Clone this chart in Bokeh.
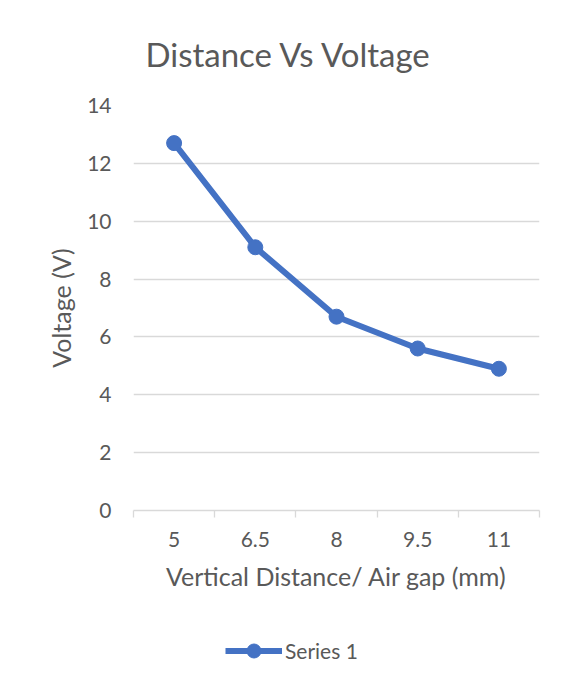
from bokeh.plotting import figure
from bokeh.layouts import column
from bokeh.models import FixedTicker, Legend, LegendItem, Range1d
from bokeh.embed import file_html
from bokeh.resources import INLINE

categories = ["5", "6.5", "8", "9.5", "11"]
voltage = [12.7, 9.1, 6.7, 5.6, 4.9]
y_ticks = [0, 2, 4, 6, 8, 10, 12, 14]
series_name = "Series 1"

FONT = "Lato"
TXT = "#595959"
GRID = "#d9d9d9"
BLUE = "#4472C4"

n = len(categories)
xpos = [i + 0.5 for i in range(n)]

p = figure(frame_width=406, frame_height=405, output_backend="svg", toolbar_location=None,
           x_range=Range1d(0, n), y_range=Range1d(0, 14),
           min_border_left=133, min_border_right=31, min_border_top=105,
           min_border_bottom=90)
p.outline_line_color = None
p.background_fill_color = "white"
p.border_fill_color = "white"

p.title.text = "Distance Vs Voltage"
p.title.align = "left"
p.title.offset = 12
p.title.text_font = FONT
p.title.text_font_style = "normal"
p.title.text_font_size = "33px"
p.title.text_color = TXT
p.title.standoff = 63

# x axis
xa = p.xaxis[0]
xa.ticker = FixedTicker(ticks=xpos, minor_ticks=list(range(n + 1)))
xa.major_label_overrides = {x: c for x, c in zip(xpos, categories)}
xa.major_tick_line_color = None
xa.major_tick_out = 7
xa.major_tick_in = 0
xa.minor_tick_line_color = GRID
xa.minor_tick_line_width = 1.3
xa.minor_tick_out = 7
xa.minor_tick_in = 0
xa.axis_line_color = GRID
xa.axis_line_width = 1.3
xa.major_label_text_font = FONT
xa.major_label_text_font_size = "21px"
xa.major_label_text_color = TXT
xa.major_label_standoff = 14
xa.axis_label = "Vertical Distance/ Air gap (mm)"
xa.axis_label_text_font = FONT
xa.axis_label_text_font_style = "normal"
xa.axis_label_text_font_size = "25px"
xa.axis_label_text_color = TXT
xa.axis_label_standoff = 11

# y axis
ya = p.yaxis[0]
ya.ticker = FixedTicker(ticks=y_ticks)
ya.axis_line_color = None
ya.major_tick_line_color = None
ya.major_tick_out = 0
ya.minor_tick_line_color = None
ya.major_label_text_font = FONT
ya.major_label_text_font_size = "21px"
ya.major_label_text_color = TXT
ya.major_label_standoff = 22
ya.axis_label = "Voltage (V)"
ya.axis_label_text_font = FONT
ya.axis_label_text_font_style = "normal"
ya.axis_label_text_font_size = "25px"
ya.axis_label_text_color = TXT
ya.axis_label_standoff = 8

p.xgrid.grid_line_color = None
p.ygrid.grid_line_color = GRID
p.ygrid.grid_line_width = 1.3

p.line(xpos, voltage, line_color=BLUE, line_width=6, line_join="round")
p.scatter(xpos, voltage, size=15, fill_color=BLUE, line_color=BLUE)

# legend strip below the chart: same series, drawn off-view so only the legend shows
p2 = figure(width=570, height=86, output_backend="svg", toolbar_location=None,
            x_axis_type=None, y_axis_type=None,
            x_range=Range1d(100, 101), y_range=Range1d(100, 101),
            min_border_left=133, min_border_right=31, min_border_top=10,
            min_border_bottom=0)
p2.outline_line_color = None
p2.background_fill_color = "white"
p2.border_fill_color = "white"
lg_line = p2.line(xpos, voltage, line_color=BLUE, line_width=6)
lg_mark = p2.scatter(xpos, voltage, size=15, fill_color=BLUE, line_color=BLUE)

legend = Legend(items=[LegendItem(label=series_name, renderers=[lg_line, lg_mark])],
                orientation="horizontal", location=(92, 18),
                label_text_font=FONT, label_text_font_size="21px",
                label_text_color=TXT, glyph_width=57, glyph_height=35,
                label_standoff=3, border_line_color=None, background_fill_alpha=0,
                margin=0, padding=2)
p2.add_layout(legend, "center")

layout = column(p, p2, spacing=0)
open("out.html", "w").write(file_html(layout, INLINE))
